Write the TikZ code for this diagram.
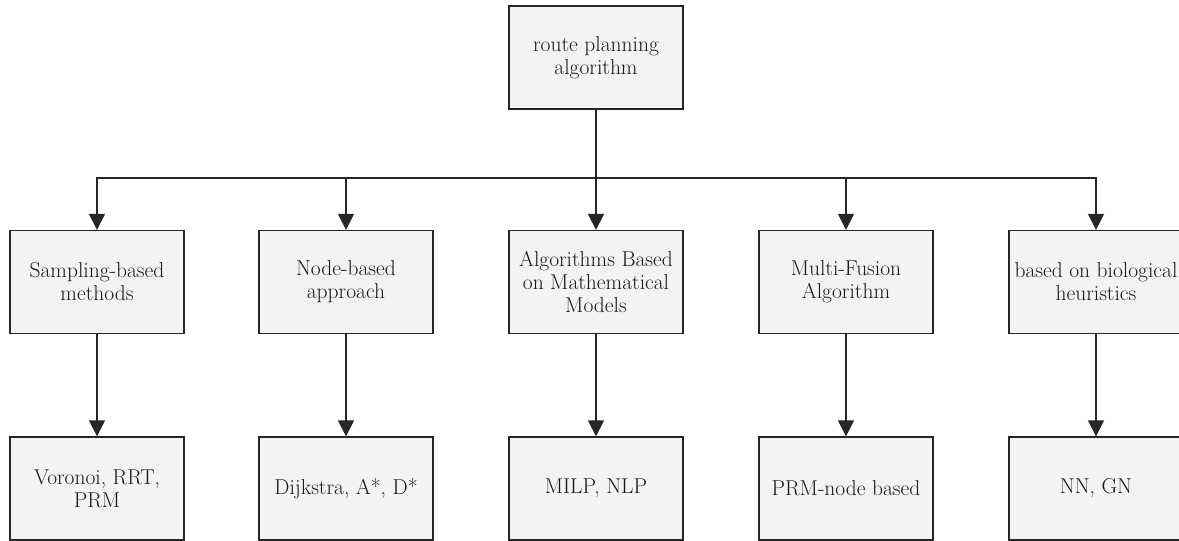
\documentclass[tikz,border=0pt]{standalone}
\usetikzlibrary{arrows.meta}
\definecolor{boxfill}{HTML}{F2F3F3}
\definecolor{linecol}{HTML}{262626}
\definecolor{textcol}{HTML}{1A1718}
\begin{document}
\begin{tikzpicture}[x=1pt,y=-1pt,
  box/.style={draw=linecol,line width=1.3pt,fill=boxfill,minimum width=174pt,minimum height=103pt,inner sep=0pt,align=center,text=textcol,font=\fontsize{21.5}{23}\selectfont},
  conn/.style={draw=linecol,line width=1.3pt},
  arr/.style={conn,-{Triangle[length=16pt,width=16pt]}}]
\useasboundingbox (0,0) rectangle (1179,541);
\node[box] (top) at (596,57.5) {route planning\\algorithm};
\node[box] (a1) at (97,282) {Sampling-based\\methods};
\node[box] (a2) at (346,282) {Node-based\\approach};
\node[box] (a3) at (596,282) {Algorithms Based\\on Mathematical\\Models};
\node[box] (a4) at (846,282) {Multi-Fusion\\Algorithm};
\node[box] (a5) at (1096,282) {based on biological\\heuristics};
\node[box] (b1) at (97,488.5) {Voronoi, RRT,\\PRM};
\node[box] (b2) at (346,488.5) {Dijkstra, A*, D*};
\node[box] (b3) at (596,488.5) {MILP, NLP};
\node[box] (b4) at (846,488.5) {PRM-node based};
\node[box] (b5) at (1096,488.5) {NN, GN};
\coordinate (bus) at (596,178);
\foreach \i in {1,...,5}{
  \draw[arr] (top.south) -- (top.south|-bus) -| (a\i.north);
  \draw[arr] (a\i.south) -- (b\i.north);
}
\end{tikzpicture}
\end{document}
